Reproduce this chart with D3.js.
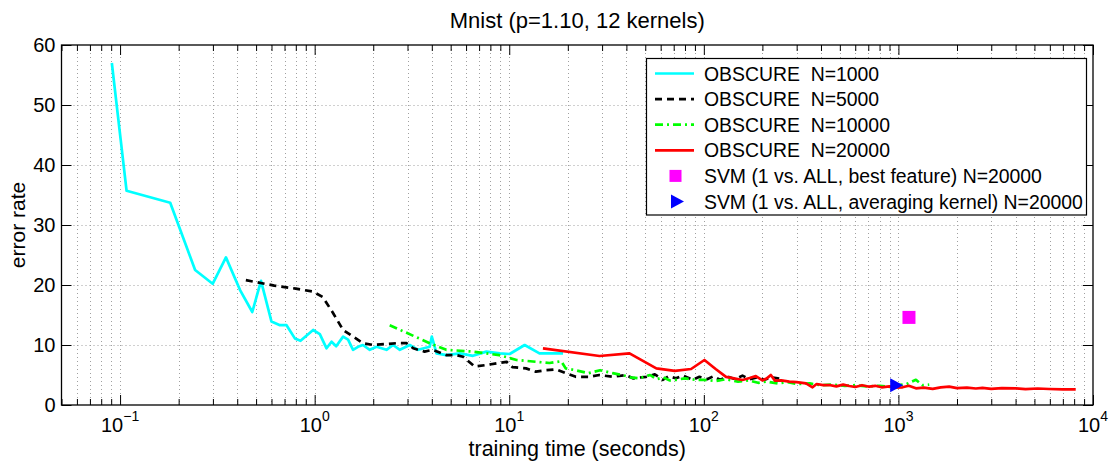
<!DOCTYPE html>
<html>
<head>
<meta charset="utf-8">
<script src="https://cdn.jsdelivr.net/npm/d3@7"></script>
<style>
  body { margin: 0; background: #fff; }
  text { font-family: "Liberation Sans", Arial, Helvetica, sans-serif; fill: #000; }
</style>
</head>
<body>
<svg id="chart" width="1110" height="462"></svg>
<script>
(function(d3) {
  'use strict';

  // training time (s), error rate
  var obscure1000 = [
    [0.0907, 57.0], [0.108, 35.7], [0.181, 33.7], [0.243, 22.5], [0.299, 20.2],
    [0.350, 24.6], [0.413, 19.2], [0.478, 15.5], [0.530, 20.7], [0.600, 13.9],
    [0.663, 13.3], [0.717, 13.3], [0.791, 11.1], [0.846, 10.7], [0.982, 12.5],
    [1.063, 11.8], [1.151, 9.45], [1.221, 10.55], [1.29, 9.8], [1.40, 11.4],
    [1.485, 10.9], [1.575, 9.2], [1.67, 9.7], [1.77, 10.0], [1.92, 9.2],
    [2.08, 9.7], [2.34, 9.2], [2.53, 10.0], [2.74, 9.2], [3.08, 10.0],
    [3.40, 9.2], [3.90, 9.7], [4.0, 11.4], [4.23, 8.6], [4.75, 8.3],
    [5.57, 8.6], [6.51, 8.2], [7.63, 8.9], [8.93, 8.6], [10.05, 8.5],
    [12.0, 10.0], [14.3, 8.6], [18.9, 8.6]
  ];
  var obscure5000 = [
    [0.443, 20.8], [0.62, 19.9], [0.80, 19.4], [0.98, 18.9], [1.10, 18.0],
    [1.245, 15.3], [1.40, 12.5], [1.575, 11.4], [1.774, 10.3], [2.0, 10.0],
    [2.63, 10.3], [2.97, 10.3], [3.21, 9.45], [3.67, 8.9], [4.05, 9.2],
    [4.76, 8.3], [5.35, 8.3], [5.79, 8.05], [6.65, 6.4], [7.63, 6.67],
    [8.6, 6.95], [9.7, 7.2], [10.4, 6.3], [12.2, 6.1], [13.7, 5.55],
    [15.5, 5.8], [17.4, 5.95], [19.6, 5.3], [22.0, 4.7], [25.7, 4.7],
    [29.0, 5.0], [34.0, 4.7], [39.8, 5.0], [43.2, 4.45], [50.6, 4.7],
    [56, 5.1], [61.5, 4.2], [66, 4.8], [71.9, 4.45], [78, 4.9],
    [87.7, 4.2], [95, 4.7], [104, 4.3], [112, 4.8], [121, 4.2],
    [133, 4.7], [145, 4.3], [158, 4.9], [172, 4.3], [188, 4.6],
    [205, 4.2], [222, 4.6], [244, 4.4]
  ];
  var obscure10000 = [
    [2.43, 13.3], [3.9, 10.3], [4.75, 9.2], [6.5, 8.9], [8.9, 8.3],
    [10.9, 7.5], [16.1, 7.0], [18.5, 7.3], [19.5, 6.1], [21.9, 5.8],
    [25.6, 5.3], [29.3, 5.8], [34.0, 5.3], [38.0, 5.0], [42, 4.6],
    [46.6, 4.45], [53.0, 5.0], [57, 4.3], [62.0, 4.6], [67, 4.1],
    [72, 4.2], [80, 4.45], [90, 4.2], [100, 4.2], [115, 4.0],
    [130, 4.3], [150, 3.9], [170, 4.1], [190, 3.7], [210, 3.9],
    [240, 3.6], [270, 3.8], [300, 3.5], [350, 3.6], [400, 3.3],
    [460, 3.4], [530, 3.2], [600, 3.3], [700, 3.1], [800, 3.2],
    [900, 3.0], [1000, 3.3], [1100, 3.5], [1230, 4.2], [1330, 3.3],
    [1440, 3.4]
  ];
  var obscure20000 = [
    [14.9, 9.45], [29.1, 8.17], [41.5, 8.6], [57.0, 6.1], [70.9, 5.7],
    [86, 6.0], [100.7, 7.5], [115, 6.0], [130, 4.7], [145, 4.4],
    [158, 4.17], [172, 4.5], [185, 4.83], [200, 4.1], [210, 4.4],
    [221, 5.0], [232, 4.05], [250, 4.1], [275, 3.9], [300, 3.8],
    [335, 3.6], [362, 2.95], [380, 3.5], [410, 3.3], [441, 3.33],
    [480, 3.1], [520, 3.4], [559, 3.17], [600, 3.0], [650, 3.3],
    [708, 3.05], [760, 3.2], [820, 2.95], [897, 3.1], [950, 2.9],
    [1050, 2.95], [1130, 3.2], [1230, 2.78], [1350, 2.9], [1500, 2.7],
    [1650, 2.95], [1823, 3.05], [2000, 2.8], [2250, 2.9], [2500, 2.75],
    [2703, 2.85], [3000, 2.7], [3400, 2.8], [4010, 2.78], [4500, 2.65],
    [5200, 2.75], [5944, 2.67], [7000, 2.6], [8150, 2.6]
  ];
  var svmBestFeature = [[1133, 14.6]];
  var svmAveraging = [[974, 3.28]];

  var seriesLabels = [
    'OBSCURE  N=1000', 'OBSCURE  N=5000', 'OBSCURE  N=10000', 'OBSCURE  N=20000',
    'SVM (1 vs. ALL, best feature) N=20000', 'SVM (1 vs. ALL, averaging kernel) N=20000'
  ];
  var xMajorTicks = [0.1, 1, 10, 100, 1000, 10000];
  var xTickExponents = ['\u22121', '0', '1', '2', '3', '4'];
  var yTicks = [0, 10, 20, 30, 40, 50, 60];

  var left = 61.5, right = 1093, top = 45, bottom = 405;

  var svg = d3.select('#chart');

  var x = d3.scaleLog().domain([0.05, 10000]).range([left, right]);
  var y = d3.scaleLinear().domain([0, 60]).range([bottom, top]);

  var allX = x.ticks();
  var minorX = allX.filter(function(v) { return xMajorTicks.indexOf(v) < 0; });

  // dotted grid
  var grid = svg.append('g')
    .attr('stroke', '#a0a0a0')
    .attr('stroke-width', 1)
    .attr('stroke-dasharray', '1,3');

  grid.selectAll('.vgrid')
    .data(allX.filter(function(v) { return v > 0.05 && v < 10000; }))
    .enter()
    .append('line')
    .attr('x1', function(d) { return Math.round(x(d)) + 0.5; })
    .attr('x2', function(d) { return Math.round(x(d)) + 0.5; })
    .attr('y1', top)
    .attr('y2', bottom);

  grid.selectAll('.hgrid')
    .data(yTicks.slice(1, -1))
    .enter()
    .append('line')
    .attr('x1', left)
    .attr('x2', right)
    .attr('y1', function(d) { return Math.round(y(d)) + 0.5; })
    .attr('y2', function(d) { return Math.round(y(d)) + 0.5; });

  // tick marks, pointing inward
  var xBottomMajor = d3.axisBottom(x).tickValues(xMajorTicks).tickSize(-10).tickFormat('');
  var xBottomMinor = d3.axisBottom(x).tickValues(minorX).tickSize(-6).tickFormat('');
  var xTopMajor = d3.axisTop(x).tickValues(xMajorTicks).tickSize(-10).tickFormat('');
  var xTopMinor = d3.axisTop(x).tickValues(minorX).tickSize(-6).tickFormat('');
  var yLeft = d3.axisLeft(y).tickValues(yTicks).tickSize(-10).tickPadding(6);
  var yRight = d3.axisRight(y).tickValues(yTicks).tickSize(-10).tickFormat('');

  [[xBottomMajor, 'translate(0,' + bottom + ')'],
   [xBottomMinor, 'translate(0,' + bottom + ')'],
   [xTopMajor, 'translate(0,' + top + ')'],
   [xTopMinor, 'translate(0,' + top + ')'],
   [yLeft, 'translate(' + left + ',0)'],
   [yRight, 'translate(' + right + ',0)']].forEach(function(a) {
    var g = svg.append('g').attr('transform', a[1]).call(a[0]);
    g.select('.domain').remove();
    g.selectAll('line').attr('stroke', '#000').attr('stroke-width', 1);
  });

  svg.selectAll('text')
    .style('font-size', '20px')
    .style('font-family', '"Liberation Sans", Arial, Helvetica, sans-serif');

  // x tick labels as 10^k
  var xLabels = svg.append('g');
  xMajorTicks.forEach(function(v, i) {
    var t = xLabels.append('text')
      .attr('x', x(v))
      .attr('y', 432)
      .attr('text-anchor', 'middle')
      .style('font-size', '20px');
    t.append('tspan').text('10');
    t.append('tspan')
      .attr('dy', -11)
      .style('font-size', '14px')
      .text(xTickExponents[i]);
  });

  // axes box
  svg.append('rect')
    .attr('x', left)
    .attr('y', top)
    .attr('width', right - left)
    .attr('height', bottom - top)
    .attr('fill', 'none')
    .attr('stroke', '#000')
    .attr('stroke-width', 1.3);

  var line = d3.line()
    .x(function(d) { return x(d[0]); })
    .y(function(d) { return y(d[1]); });

  var seriesData = [obscure1000, obscure5000, obscure10000, obscure20000];
  var seriesColors = ['#00ffff', '#000000', '#00ff00', '#ff0000'];
  var seriesDash = [null, '7,5', '8,4,2,4', null];

  svg.selectAll('.series')
    .data(seriesData)
    .enter()
    .append('path')
    .attr('class', 'series')
    .attr('d', line)
    .attr('fill', 'none')
    .attr('stroke', function(d, i) { return seriesColors[i]; })
    .attr('stroke-width', 2.7)
    .attr('stroke-linejoin', 'round')
    .attr('stroke-dasharray', function(d, i) { return seriesDash[i]; });

  svg.selectAll('.best')
    .data(svmBestFeature)
    .enter()
    .append('rect')
    .attr('x', function(d) { return x(d[0]) - 6.5; })
    .attr('y', function(d) { return y(d[1]) - 6.5; })
    .attr('width', 13)
    .attr('height', 13)
    .attr('fill', '#ff00ff');

  var triangle = 'M-6,-7L7,0L-6,7Z';
  svg.selectAll('.avg')
    .data(svmAveraging)
    .enter()
    .append('path')
    .attr('d', triangle)
    .attr('transform', function(d) { return 'translate(' + x(d[0]) + ',' + y(d[1]) + ')'; })
    .attr('fill', '#0000ff');

  // legend
  var legend = svg.append('g');
  legend.append('rect')
    .attr('x', 646.5)
    .attr('y', 58.5)
    .attr('width', 440)
    .attr('height', 156.5)
    .attr('fill', '#fff')
    .attr('stroke', '#000')
    .attr('stroke-width', 1.2);

  var rowY = function(i) { return 73.5 + i * 25.6; };
  var rows = legend.selectAll('.legend')
    .data(seriesLabels)
    .enter()
    .append('g')
    .attr('class', 'legend')
    .attr('transform', function(d, i) { return 'translate(0,' + rowY(i) + ')'; });

  rows.filter(function(d, i) { return i < 4; })
    .append('line')
    .attr('x1', 655)
    .attr('x2', 694)
    .attr('stroke', function(d, i) { return seriesColors[i]; })
    .attr('stroke-width', 2.7)
    .attr('stroke-dasharray', function(d, i) { return seriesDash[i]; });

  rows.filter(function(d, i) { return i === 4; })
    .append('rect')
    .attr('x', 669.5)
    .attr('y', -6)
    .attr('width', 12)
    .attr('height', 12)
    .attr('fill', '#ff00ff');

  rows.filter(function(d, i) { return i === 5; })
    .append('path')
    .attr('d', triangle)
    .attr('transform', 'translate(677,0)')
    .attr('fill', '#0000ff');

  rows.append('text')
    .attr('x', 704)
    .attr('y', 7)
    .style('font-size', '19.4px')
    .style('white-space', 'pre')
    .text(function(d) { return d; });

  // titles
  svg.append('text')
    .attr('x', (left + right) / 2)
    .attr('y', 28)
    .attr('text-anchor', 'middle')
    .style('font-size', '22px')
    .text('Mnist (p=1.10, 12 kernels)');

  svg.append('text')
    .attr('x', (left + right) / 2)
    .attr('y', 456)
    .attr('text-anchor', 'middle')
    .style('font-size', '21.5px')
    .text('training time (seconds)');

  svg.append('text')
    .attr('transform', 'translate(25,' + (top + bottom) / 2 + ') rotate(-90)')
    .attr('text-anchor', 'middle')
    .style('font-size', '21px')
    .text('error rate');

})(window.d3);
</script>
</body>
</html>
